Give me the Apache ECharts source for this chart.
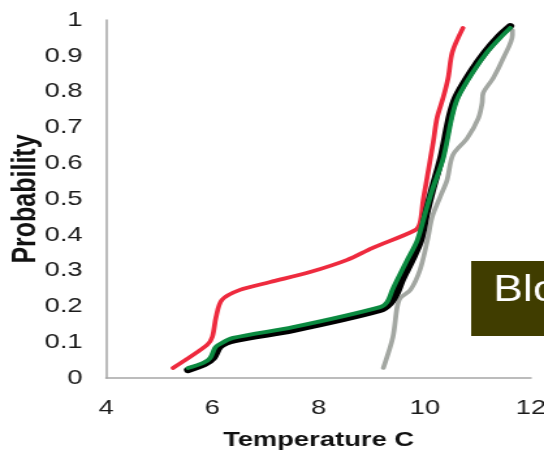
<!DOCTYPE html>
<html>
<head>
<meta charset="utf-8">
<script src="https://cdn.jsdelivr.net/npm/echarts@6/dist/echarts.min.js"></script>
<style>
  html, body { margin: 0; padding: 0; background: #ffffff; overflow: hidden; }
  /* the chart is laid out narrow and widened horizontally */
  #chart { width: 418px; height: 462px; transform: scaleX(1.30144); transform-origin: 0 0; }
</style>
</head>
<body>
<div id="chart"></div>
<script>
// Temperature (C) / cumulative probability pairs for each curve
const redTemp   = [5.26, 5.90, 6.00, 6.07, 6.18, 6.52, 7.09, 7.84, 8.54, 9.01, 9.82, 9.91, 9.97, 10.01, 10.16, 10.23, 10.35, 10.44, 10.52, 10.72];
const redProb   = [0.028, 0.092, 0.115, 0.170, 0.218, 0.246, 0.268, 0.296, 0.330, 0.363, 0.413, 0.433, 0.497, 0.531, 0.659, 0.726, 0.785, 0.838, 0.911, 0.978];

const blackTemp = [5.54, 5.86, 6.02, 6.15, 6.43, 7.52, 9.16, 9.35, 9.48, 9.57, 9.76, 9.92, 10.03, 10.14, 10.31, 10.48, 10.59, 10.87, 11.14, 11.40, 11.61];
const blackProb = [0.022, 0.039, 0.056, 0.089, 0.106, 0.134, 0.190, 0.209, 0.240, 0.274, 0.330, 0.385, 0.461, 0.525, 0.615, 0.735, 0.785, 0.855, 0.911, 0.955, 0.983];

const greenTemp = [5.54, 5.83, 5.96, 6.05, 6.11, 6.39, 7.52, 9.16, 9.29, 9.39, 9.48, 9.67, 9.86, 10.01, 10.14, 10.35, 10.52, 10.63, 10.91, 11.18, 11.42, 11.61];
const greenProb = [0.028, 0.042, 0.056, 0.084, 0.092, 0.112, 0.142, 0.198, 0.212, 0.246, 0.274, 0.330, 0.385, 0.461, 0.525, 0.615, 0.735, 0.785, 0.855, 0.911, 0.950, 0.978];

const grayTemp  = [9.22, 9.40, 9.48, 9.54, 9.73, 9.91, 10.05, 10.14, 10.29, 10.42, 10.53, 10.80, 11.01, 11.08, 11.10, 11.29, 11.48, 11.65, 11.65];
const grayProb  = [0.028, 0.114, 0.198, 0.223, 0.246, 0.302, 0.385, 0.450, 0.506, 0.553, 0.623, 0.670, 0.726, 0.768, 0.796, 0.838, 0.894, 0.958, 0.972];

const xTicks = [4, 6, 8, 10, 12];
const yTicks = [0, 0.1, 0.2, 0.3, 0.4, 0.5, 0.6, 0.7, 0.8, 0.9, 1];

const pairs = (xs, ys) => xs.map((x, i) => [x, ys[i]]);

const chart = echarts.init(document.getElementById('chart'), null, { renderer: 'canvas' });

const axisColor = '#a6a6a6';
const labelFont = { color: '#1a1a1a', fontSize: 21, fontFamily: 'Liberation Sans, Arial, sans-serif' };

function line(name, data, color, width, z) {
  return {
    name, type: 'line', data, smooth: 0.3, symbol: 'none', z,
    lineStyle: { color, width, cap: 'round', join: 'round' }
  };
}

chart.setOption({
  animation: false,
  backgroundColor: '#ffffff',
  grid: { left: 81.5, right: 10, top: 20, bottom: 84, outerBoundsMode: 'none', containLabel: false },
  xAxis: {
    type: 'value', min: xTicks[0], max: xTicks[xTicks.length - 1], interval: 2,
    name: 'Temperature C', nameLocation: 'middle', nameGap: 52, nameMoveOverlap: false,
    nameTextStyle: { color: '#111', fontSize: 21, fontWeight: 'bold', fontFamily: 'Liberation Sans, Arial, sans-serif' },
    axisLine: { show: true, lineStyle: { color: axisColor, width: 1.5 } },
    axisTick: { show: false },
    splitLine: { show: false },
    axisLabel: Object.assign({ margin: 20 }, labelFont)
  },
  yAxis: {
    type: 'value', min: yTicks[0], max: yTicks[yTicks.length - 1], interval: 0.1,
    name: 'Probability', nameLocation: 'middle', nameGap: 48.5, nameRotate: 90, nameMoveOverlap: false,
    nameTextStyle: { color: '#111', fontSize: 25, fontWeight: 'bold', fontFamily: 'Liberation Sans, Arial, sans-serif' },
    axisLine: { show: true, lineStyle: { color: axisColor, width: 1.5 } },
    axisTick: { show: false },
    splitLine: { show: false },
    axisLabel: Object.assign({ margin: 18 }, labelFont)
  },
  series: [
    line('gray', pairs(grayTemp, grayProb), '#a3a7a2', 3.7, 2),
    line('red', pairs(redTemp, redProb), '#ee2a3e', 3.7, 3),
    line('black', pairs(blackTemp, blackProb), '#000000', 6, 4),
    line('green', pairs(greenTemp, greenProb), '#0b8a40', 3.8, 5)
  ],
  graphic: [
    {
      type: 'rect', z: 10,
      shape: { x: 362, y: 261, width: 80, height: 75 },
      style: { fill: '#403d00' }
    },
    {
      type: 'text', z: 11,
      x: 379, y: 291, scaleX: 0.95,
      style: {
        text: 'Blo', fill: '#ffffff', fontSize: 36,
        fontFamily: 'Liberation Sans, Arial, sans-serif',
        align: 'left', verticalAlign: 'middle'
      }
    }
  ]
});
</script>
</body>
</html>
